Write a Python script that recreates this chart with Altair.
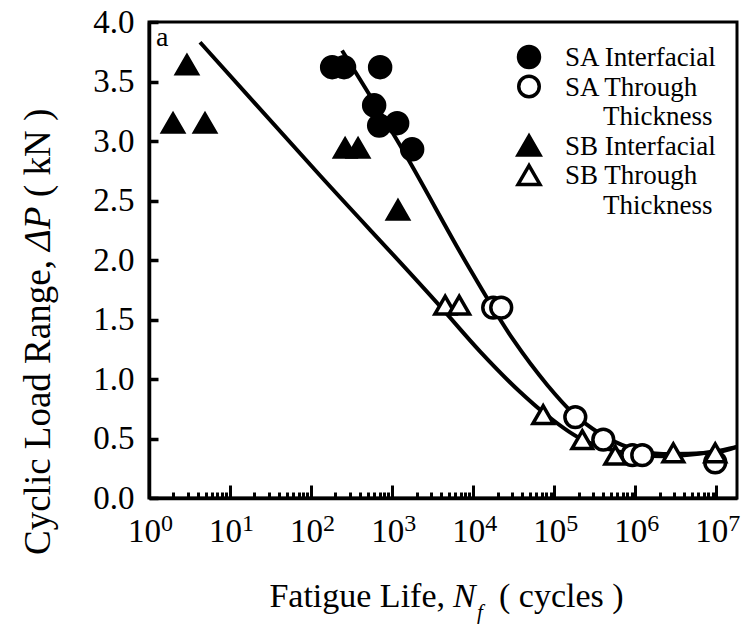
import altair as alt
import pandas as pd

FONT = "Liberation Serif"

SERIES = ["SA Interfacial", "SA Through Thickness", "SB Interfacial", "SB Through Thickness"]
SERIES_SHAPES = ["circle", "circle", "triangle-up", "triangle-up"]
SERIES_FILLS = ["black", "white", "black", "white"]
LEGEND_LINES = [["SA Interfacial"], ["SA Through", "Thickness"],
                ["SB Interfacial"], ["SB Through", "Thickness"]]

# measured data points (cycles, kN)
SA_INT_N = [182, 255, 711, 600, 692, 1153, 1766]
SA_INT_P = [3.62, 3.62, 3.62, 3.30, 3.13, 3.15, 2.93]
SA_TT_N = [17660, 22180, 1.82e5, 4.03e5, 9.2e5, 1.22e6, 9.7e6]
SA_TT_P = [1.60, 1.60, 0.68, 0.49, 0.36, 0.36, 0.30]
SB_INT_N = [2.94, 1.98, 4.91, 263, 380, 1180]
SB_INT_P = [3.64, 3.15, 3.15, 2.94, 2.94, 2.42]
SB_TT_N = [4510, 6720, 7.3e4, 2.22e5, 5.66e5, 2.95e6, 9.7e6]
SB_TT_P = [1.62, 1.62, 0.70, 0.49, 0.36, 0.38, 0.38]

# fitted curves
FIT_SA_N = [241, 1367, 9180, 3.12e4, 8.2e4, 1.72e5, 3.70e5, 8.67e5, 2.22e6, 9.2e6, 1.8e7]
FIT_SA_P = [3.76, 2.92, 1.92, 1.33, 0.95, 0.71, 0.54, 0.42, 0.37, 0.38, 0.43]
FIT_SB_N = [4.26, 129, 3920, 1.22e4, 3.80e4, 7.3e4, 2.09e5, 5.35e5, 2.22e6, 9.2e6, 1.8e7]
FIT_SB_P = [3.83, 2.71, 1.61, 1.23, 0.89, 0.72, 0.50, 0.40, 0.35, 0.39, 0.43]

X_MAJOR = [1, 10, 100, 1000, 10000, 100000, 1000000, 10000000]
X_EXPONENTS = ["0", "1", "2", "3", "4", "5", "6", "7"]
X_MINOR = [m * d for d in X_MAJOR[:-1] for m in range(2, 10)]
Y_TICKS = [0.0, 0.5, 1.0, 1.5, 2.0, 2.5, 3.0, 3.5, 4.0]

X_TITLE = ["Fatigue Life,", "N", "f", "( cycles )"]
Y_TITLE = ["Cyclic Load Range,", "\u0394P", "( kN )"]
PANEL = "a"

W, H = 588, 476

pts = pd.concat([
    pd.DataFrame({"N": SA_INT_N, "P": SA_INT_P, "series": SERIES[0]}),
    pd.DataFrame({"N": SA_TT_N, "P": SA_TT_P, "series": SERIES[1]}),
    pd.DataFrame({"N": SB_INT_N, "P": SB_INT_P, "series": SERIES[2]}),
    pd.DataFrame({"N": SB_TT_N, "P": SB_TT_P, "series": SERIES[3]}),
])
fits = pd.concat([
    pd.DataFrame({"N": FIT_SA_N, "P": FIT_SA_P, "curve": "SA"}),
    pd.DataFrame({"N": FIT_SB_N, "P": FIT_SB_P, "curve": "SB"}),
])
exps = pd.DataFrame({"N": X_MAJOR, "e": X_EXPONENTS})

major_js = "[" + ",".join(str(v) for v in X_MAJOR) + "]"
major_test = f"indexof({major_js}, datum.value) >= 0"

x_scale = alt.Scale(type="log", domain=[1, 1.8e7], nice=False)
y_scale = alt.Scale(domain=[0, 4], nice=False, zero=False)

# outer axes: domain line + labels
x_axis = alt.Axis(
    values=X_MAJOR, labelExpr="'10'", title=None, grid=False, ticks=False,
    domainWidth=3.5, domainColor="black",
    labelFont=FONT, labelFontSize=33, labelColor="black", labelPadding=17,
    labelOffset=-5, labelOverlap=False, labelFlush=False, labelBaseline="top",
)
y_axis = alt.Axis(
    values=Y_TICKS, format=".1f", title=None, grid=False, ticks=False,
    domainWidth=3.5, domainColor="black",
    labelFont=FONT, labelFontSize=33, labelColor="black", labelPadding=15,
)
# inward ticks: opposite-side axes shifted onto the bottom / left edges
x_ticks_axis = alt.Axis(
    orient="top", offset=-H, values=X_MAJOR + X_MINOR, labels=False, domain=False,
    title=None, grid=False,
    tickSize={"condition": {"test": major_test, "value": 13}, "value": 6},
    tickWidth=3, tickColor="black",
)
y_ticks_axis = alt.Axis(
    orient="right", offset=-W, values=Y_TICKS, labels=False, domain=False,
    title=None, grid=False, tickSize=9, tickWidth=3.5, tickColor="black",
)

lines = alt.Chart(fits).mark_line(color="black", strokeWidth=4, interpolate="monotone").encode(
    x=alt.X("N:Q", scale=x_scale, axis=x_axis),
    y=alt.Y("P:Q", scale=y_scale, axis=y_axis),
    detail="curve:N",
)

points = alt.Chart(pts).mark_point(filled=True, stroke="black", strokeWidth=3.5, opacity=1).encode(
    x=alt.X("N:Q", scale=x_scale, axis=x_ticks_axis),
    y=alt.Y("P:Q", scale=y_scale, axis=y_ticks_axis),
    shape=alt.Shape("series:N", scale=alt.Scale(domain=SERIES, range=SERIES_SHAPES), legend=None),
    fill=alt.Fill("series:N", scale=alt.Scale(domain=SERIES, range=SERIES_FILLS), legend=None),
    size=alt.Size("series:N", scale=alt.Scale(domain=SERIES, range=[440, 420, 480, 480]), legend=None),
)

# superscript exponents of the x tick labels, placed through the x scale
exponents = alt.Chart(exps).mark_text(
    font=FONT, fontSize=24, align="left", baseline="alphabetic", dx=12, color="black",
).encode(
    x=alt.X("N:Q", scale=x_scale, axis=None),
    y=alt.value(H + 33),
    text="e:N",
)


def txt(s, x, y, size, angle=0, italic=False, align="left", baseline="alphabetic"):
    return alt.Chart(pd.DataFrame({"t": [s]})).mark_text(
        font=FONT, fontSize=size, align=align, baseline=baseline, angle=angle,
        fontStyle="italic" if italic else "normal", color="black",
    ).encode(text="t:N", x=alt.value(x), y=alt.value(y))


texts = [
    txt(PANEL, 7, 24, 28),
    txt(X_TITLE[0], 296, 585, 34, align="right"),
    txt(X_TITLE[1], 304, 585, 34, italic=True),
    txt(X_TITLE[2], 328, 597, 21, italic=True),
    txt(X_TITLE[3], 350, 585, 34),
    txt(Y_TITLE[0], -99, 533, 37, angle=270),
    txt(Y_TITLE[1], -99, 229, 37, angle=270, italic=True),
    txt(Y_TITLE[2], -99, 175, 37, angle=270),
]

# manual legend (symbol aligned with the first line of each label)
LEG_SYM_X, LEG_TXT_X, LEG_INDENT = 380, 416, 38
LEG_TOP, LEG_LINE = 36, 29.5
legend_layers = []
line_no = 0
for i, name in enumerate(SERIES):
    y0 = LEG_TOP + line_no * LEG_LINE
    legend_layers.append(
        alt.Chart(pd.DataFrame({"series": [name]})).mark_point(
            shape=SERIES_SHAPES[i], fill=SERIES_FILLS[i], filled=True, stroke="black",
            strokeWidth=3.5, opacity=1, size=[440, 420, 480, 480][i],
        ).encode(x=alt.value(LEG_SYM_X), y=alt.value(y0 - 1))
    )
    for j, part in enumerate(LEGEND_LINES[i]):
        legend_layers.append(
            txt(part, LEG_TXT_X + (LEG_INDENT if j else 0), LEG_TOP + line_no * LEG_LINE,
                27, baseline="middle")
        )
        line_no += 1

chart = alt.layer(lines, points, exponents, *texts, *legend_layers).resolve_axis(
    x="independent", y="independent"
).properties(
    width=W, height=H,
    padding={"left": 149, "top": 22, "right": 5, "bottom": 129},
    autosize="none",
    background="white",
).configure_view(stroke="black", strokeWidth=3)

chart.save("out.html", embed_options={"renderer": "svg", "actions": False})
